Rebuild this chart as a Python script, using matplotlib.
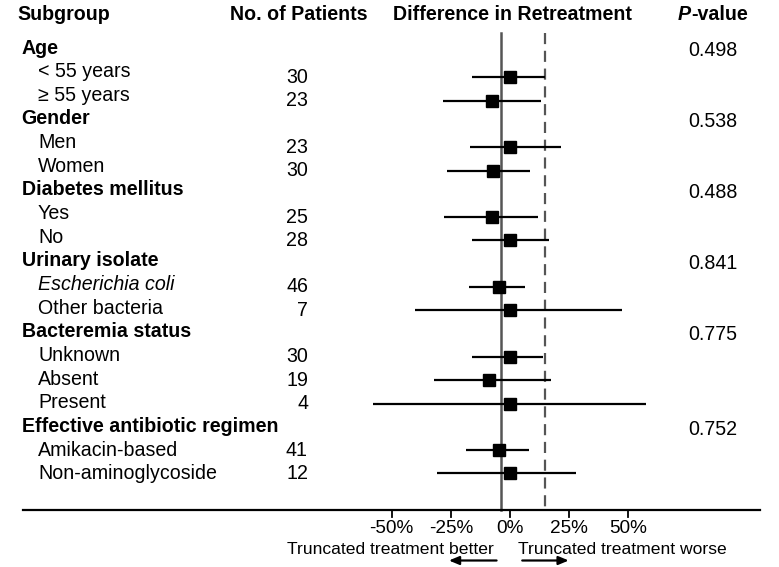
import matplotlib
matplotlib.use("Agg")
import matplotlib.pyplot as plt
import matplotlib.transforms as mtransforms

plt.rcParams['font.family'] = ['Liberation Sans', 'DejaVu Sans']

# data
groups = ["Age", "Gender", "Diabetes mellitus", "Urinary isolate",
          "Bacteremia status", "Effective antibiotic regimen"]
subgroups = [["< 55 years", "≥ 55 years"],
             ["Men", "Women"],
             ["Yes", "No"],
             ["Escherichia coli", "Other bacteria"],
             ["Unknown", "Absent", "Present"],
             ["Amikacin-based", "Non-aminoglycoside"]]
n_patients = [[30, 23], [23, 30], [25, 28], [46, 7], [30, 19, 4], [41, 12]]
estimate = [[0, -7.5], [0, -7], [-7.5, 0], [-4.5, 0], [0, -9, 0], [-4.5, 0]]
ci_low = [[-16, -28.5], [-17, -26.5], [-28, -16], [-17.5, -40], [-16, -32, -58], [-18.5, -31]]
ci_high = [[15, 13], [21.5, 8.5], [12, 16.5], [6.5, 47.5], [14, 17.5, 57.5], [8, 28]]
p_values = ["0.498", "0.538", "0.488", "0.841", "0.775", "0.752"]
overall = -3.7
margin = 15
xticks = [-50, -25, 0, 25, 50]
xtick_labels = ["-50%", "-25%", "0%", "25%", "50%"]

W, H = 779, 567
ZERO_PX, PX_PER_PCT = 510.0, 2.366
FS = 14.1

fig = plt.figure(figsize=(W / 100, H / 100), dpi=100)
ax = fig.add_axes([0, 0, 1, 1])
ax.set_xlim(-ZERO_PX / PX_PER_PCT, (W - ZERO_PX) / PX_PER_PCT)
ax.set_ylim(H, 0)
ax.axis('off')

# x in pixels (axes fraction), y in pixel data units
tpx = mtransforms.blended_transform_factory(ax.transAxes, ax.transData)


def px(x):
    return x / W


def label_y(i):
    return 48 + 23.65 * i


def mark_y(i):
    return 54 + 23.3 * i


# headers
ax.text(px(17), 15, "Subgroup", transform=tpx, fontsize=FS, fontweight='bold', va='center')
ax.text(px(298.5), 15, "No. of Patients", transform=tpx, fontsize=FS, fontweight='bold',
        va='center', ha='center')
ax.text(px(512.5), 15, "Difference in Retreatment", transform=tpx, fontsize=FS,
        fontweight='bold', va='center', ha='center')
ax.text(px(691), 15, "P", transform=tpx, fontsize=FS, fontweight='bold', style='italic',
        va='center', ha='right')
ax.text(px(691), 15, "-value", transform=tpx, fontsize=FS, fontweight='bold', va='center',
        ha='left')

row = 0
for g, name in enumerate(groups):
    ax.text(px(21.5), label_y(row), name, transform=tpx, fontsize=FS, fontweight='bold',
            va='center')
    ax.text(px(712.5), label_y(row) + 3, p_values[g], transform=tpx, fontsize=FS,
            va='center', ha='center')
    row += 1
    for k, sub in enumerate(subgroups[g]):
        italic = 'italic' if sub == "Escherichia coli" else 'normal'
        ax.text(px(38), label_y(row), sub, transform=tpx, fontsize=FS, style=italic,
                va='center')
        ax.text(px(308), mark_y(row), str(n_patients[g][k]), transform=tpx, fontsize=FS,
                va='center', ha='right')
        ax.plot([ci_low[g][k], ci_high[g][k]], [mark_y(row), mark_y(row)], color='black',
                lw=1.6, solid_capstyle='butt', zorder=3)
        ax.plot(estimate[g][k], mark_y(row), marker='s', color='black', markersize=9,
                zorder=4)
        row += 1

# reference lines
ax.plot([overall, overall], [33, 510], color='#555555', lw=1.8, zorder=2)
ax.plot([margin, margin], [33, 510], color='#555555', lw=1.6, ls=(0, (5, 3)), zorder=2)

# bottom axis
ax.plot([(23 - ZERO_PX) / PX_PER_PCT, (760 - ZERO_PX) / PX_PER_PCT], [510, 510],
        color='black', lw=1.6)
for t, lab in zip(xticks, xtick_labels):
    ax.plot([t, t], [510, 517], color='black', lw=1.3)
    ax.text(t, 528.5, lab, fontsize=13.7, ha='center', va='center')

ax.text(-7, 549, "Truncated treatment better", fontsize=12.6, ha='right', va='center')
ax.text(3.5, 549, "Truncated treatment worse", fontsize=12.6, ha='left', va='center')
ax.annotate("", xy=(-27, 560.5), xytext=(-4.5, 560.5),
            arrowprops=dict(arrowstyle='-|>,head_length=0.6,head_width=0.25', color='black', lw=1.6))
ax.annotate("", xy=(26, 560.5), xytext=(4, 560.5),
            arrowprops=dict(arrowstyle='-|>,head_length=0.6,head_width=0.25', color='black', lw=1.6))

fig.savefig("out.png", dpi=100, facecolor='white')
